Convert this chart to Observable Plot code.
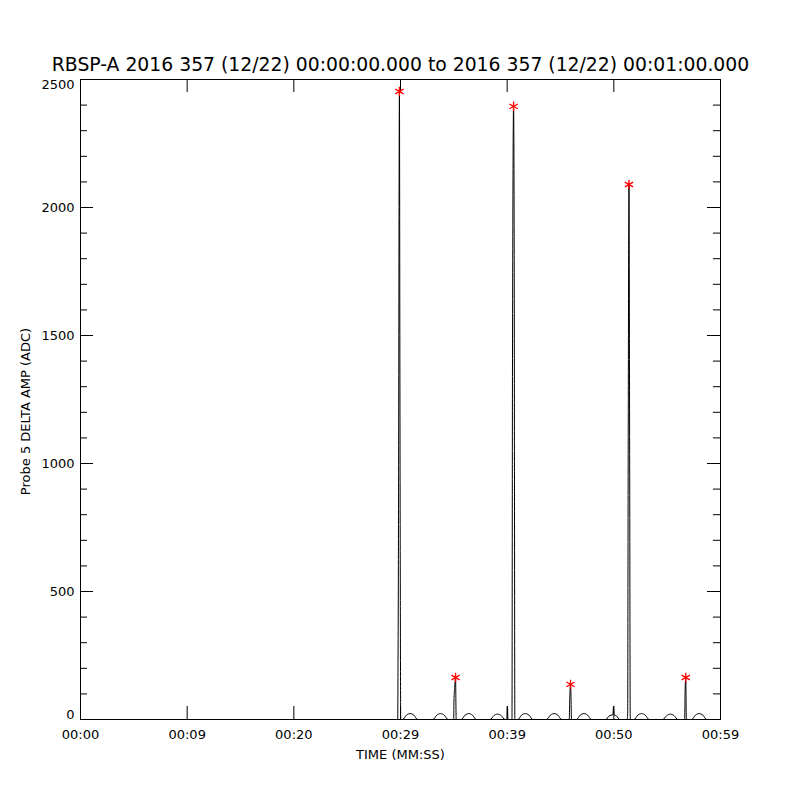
<!DOCTYPE html>
<html><head><meta charset="utf-8">
<script src="https://cdn.jsdelivr.net/npm/d3@7"></script>
<script src="https://cdn.jsdelivr.net/npm/@observablehq/plot@0.6"></script>
<style>body{margin:0;background:#fff} svg{display:block}</style>
</head><body><div id="chart"></div>
<script>
const titleText = "RBSP-A 2016 357 (12/22) 00:00:00.000 to 2016 357 (12/22) 00:01:00.000";
const xTitle = "TIME (MM:SS)";
const yTitle = "Probe 5 DELTA AMP (ADC)";

// x tick positions (seconds) and their printed labels
const xTickVals = [0, 10, 20, 30, 40, 50, 60];
const xTickLabels = ["00:00", "00:09", "00:20", "00:29", "00:39", "00:50", "00:59"];
const yMajor = [0, 500, 1000, 1500, 2000, 2500];
const yMinor = [100, 200, 300, 400, 600, 700, 800, 900, 1100, 1200, 1300, 1400,
                1600, 1700, 1800, 1900, 2100, 2200, 2300, 2400];

// signal samples: time (s) and amplitude (ADC)
const sigTime = [
  29.50, 29.74, 29.77, 29.80, 29.90, 29.94, 29.98, 30.02,
  30.20, 30.55, 30.90, 31.25, 31.60,
  33.05, 33.40, 33.75, 34.10, 34.45,
  34.98, 35.02, 35.08, 35.16, 35.22,
  35.70, 36.05, 36.40, 36.75, 37.10,
  38.40, 38.75, 39.10, 39.45, 39.80,
  39.99, 40.03, 40.07,
  40.45, 40.50, 40.60, 40.66, 40.72,
  41.00, 41.35, 41.70, 42.05, 42.40,
  43.70, 44.05, 44.40, 44.75, 45.10,
  45.82, 45.86, 45.94, 45.99, 46.03,
  46.50, 46.85, 47.20, 47.55, 47.90,
  49.25, 49.55, 49.92, 49.97, 50.02, 50.25, 50.55,
  51.26, 51.30, 51.34, 51.42, 51.48, 51.54,
  51.90, 52.25, 52.60, 52.95, 53.30,
  54.60, 54.95, 55.30, 55.65, 56.00,
  56.64, 56.68, 56.74, 56.80,
  57.30, 57.65, 58.00, 58.35, 58.70,
  60.00
];
const sigAmp = [
  0, 0, 240, 560, 2453, 1470, 560, 0,
  0, 17, 23, 17, 0,
  0, 17, 23, 17, 0,
  0, 85, 125, 164, 0,
  0, 17, 23, 17, 0,
  0, 15, 21, 15, 0,
  0, 52, 0,
  0, 1410, 2395, 1830, 0,
  0, 17, 23, 17, 0,
  0, 17, 23, 17, 0,
  0, 68, 137, 80, 0,
  0, 17, 23, 17, 0,
  0, 14, 19, 52, 19, 14, 0,
  0, 30, 900, 2090, 1105, 0,
  0, 17, 23, 17, 0,
  0, 15, 21, 15, 0,
  0, 110, 164, 0,
  0, 17, 23, 17, 0,
  0
];

// peak markers
const peakTime = [29.90, 35.16, 40.60, 45.94, 51.42, 56.74];
const peakAmp = [2453, 164, 2395, 137, 2090, 164];

const signal = sigTime.map((t, i) => ({t, v: sigAmp[i]}));
const peaks = peakTime.map((t, i) => ({t, v: peakAmp[i]}));
const yMid = yMajor.filter(d => d !== 0 && d !== 2500);

const chart = Plot.plot({
  width: 800, height: 800,
  marginLeft: 80, marginRight: 80, marginTop: 79, marginBottom: 81,
  style: {fontFamily: "DejaVu Sans", fontSize: "13px", background: "white", color: "black"},
  x: {domain: [0, 60], axis: null},
  y: {domain: [0, 2500], axis: null},
  marks: [
    Plot.line(signal, {x: "t", y: "v", stroke: "black", strokeWidth: 1, curve: "monotone-x"}),
    Plot.frame({stroke: "black", strokeWidth: 1}),
    // inward ticks
    Plot.tickY(yMajor, {y: d => d, insetRight: 627, stroke: "black"}),
    Plot.tickY(yMajor, {y: d => d, insetLeft: 627, stroke: "black"}),
    Plot.tickY(yMinor, {y: d => d, insetRight: 633, stroke: "black"}),
    Plot.tickY(yMinor, {y: d => d, insetLeft: 633, stroke: "black"}),
    Plot.tickX(xTickVals, {x: d => d, insetTop: 627, stroke: "black"}),
    Plot.tickX(xTickVals, {x: d => d, insetBottom: 627, stroke: "black"}),
    // y labels
    Plot.text(yMid, {y: d => d, text: d => String(d), frameAnchor: "left", textAnchor: "end", dx: -6, fill: "black"}),
    Plot.text([0], {y: d => d, text: d => String(d), frameAnchor: "left", textAnchor: "end", dx: -6, dy: -5, fill: "black"}),
    Plot.text([2500], {y: d => d, text: d => String(d), frameAnchor: "left", textAnchor: "end", dx: -6, dy: 5, fill: "black"}),
    // x labels
    Plot.text(xTickVals, {x: d => d, text: (d, i) => xTickLabels[i], frameAnchor: "bottom", dy: 19, fill: "black"}),
    Plot.text([xTitle], {frameAnchor: "bottom", dy: 39, fill: "black"}),
    Plot.text([yTitle], {frameAnchor: "left", dx: -55, dy: 12, rotate: -90, textAnchor: "middle", lineAnchor: "middle", fill: "black"}),
    Plot.text([titleText], {frameAnchor: "top", dy: -15, lineAnchor: "middle", fontSize: 18.8, fill: "black"}),
    // peak markers
    Plot.dot(peaks, {x: "t", y: "v", symbol: "asterisk", r: 4.5, stroke: "#ff0000", strokeWidth: 1.3})
  ]
});
document.getElementById("chart").append(chart);
</script>
</body></html>
